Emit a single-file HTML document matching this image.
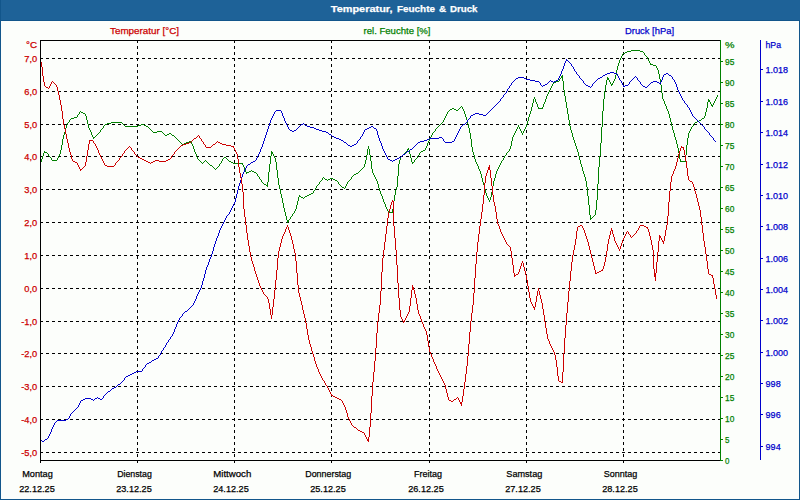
<!DOCTYPE html>
<html><head><meta charset="utf-8"><title>Temperatur, Feuchte &amp; Druck</title>
<style>
html,body{margin:0;padding:0;background:#fcfefb;}
body{width:800px;height:500px;overflow:hidden;font-family:"Liberation Sans",sans-serif;}
svg{display:block;font-family:"Liberation Sans",sans-serif;}
</style></head><body>
<svg width="800" height="500" viewBox="0 0 800 500">
<rect x="0" y="0" width="800" height="500" fill="#fcfefb"/>
<rect x="0" y="0" width="800" height="20" fill="#1e6298"/>
<rect x="0" y="20" width="800" height="1" fill="#12568b"/>
<rect x="0" y="0" width="1" height="500" fill="#12568b"/>
<rect x="799" y="20" width="1" height="480" fill="#12568b"/>
<rect x="0" y="499" width="800" height="1" fill="#12568b"/>
<text x="330.8" y="11.5" fill="#ffffff" stroke="#ffffff" stroke-width="0.25" text-anchor="start" font-size="9.6" font-weight="bold" textLength="61.7" lengthAdjust="spacingAndGlyphs">Temperatur,</text>
<text x="397" y="11.5" fill="#ffffff" stroke="#ffffff" stroke-width="0.25" text-anchor="start" font-size="9.6" font-weight="bold" textLength="38" lengthAdjust="spacingAndGlyphs">Feuchte</text>
<text x="439" y="11.5" fill="#ffffff" stroke="#ffffff" stroke-width="0.25" text-anchor="start" font-size="9.6" font-weight="bold" textLength="7.2" lengthAdjust="spacingAndGlyphs">&amp;</text>
<text x="450" y="11.5" fill="#ffffff" stroke="#ffffff" stroke-width="0.25" text-anchor="start" font-size="9.6" font-weight="bold" textLength="27.5" lengthAdjust="spacingAndGlyphs">Druck</text>
<g stroke="#000" stroke-width="1" stroke-dasharray="3,3" shape-rendering="crispEdges"><line x1="40" y1="452.5" x2="720" y2="452.5"/><line x1="40" y1="419.5" x2="720" y2="419.5"/><line x1="40" y1="386.5" x2="720" y2="386.5"/><line x1="40" y1="353.5" x2="720" y2="353.5"/><line x1="40" y1="321.5" x2="720" y2="321.5"/><line x1="40" y1="288.5" x2="720" y2="288.5"/><line x1="40" y1="255.5" x2="720" y2="255.5"/><line x1="40" y1="222.5" x2="720" y2="222.5"/><line x1="40" y1="189.5" x2="720" y2="189.5"/><line x1="40" y1="156.5" x2="720" y2="156.5"/><line x1="40" y1="124.5" x2="720" y2="124.5"/><line x1="40" y1="91.5" x2="720" y2="91.5"/><line x1="40" y1="58.5" x2="720" y2="58.5"/><line x1="137.5" y1="40" x2="137.5" y2="460"/><line x1="234.5" y1="40" x2="234.5" y2="460"/><line x1="331.5" y1="40" x2="331.5" y2="460"/><line x1="429.5" y1="40" x2="429.5" y2="460"/><line x1="526.5" y1="40" x2="526.5" y2="460"/><line x1="623.5" y1="40" x2="623.5" y2="460"/></g>
<path d="M40.5 162v2M41.5 159v3M42.5 156v3M43.5 153v3M44.5 151v2M45.5 152v1M46.5 152v1M47.5 153v1M48.5 154v2M49.5 156v1M50.5 157v1M51.5 158v2M52.5 160v1M53.5 160v1M54.5 160v1M55.5 160v1M56.5 160v1M57.5 158v2M58.5 156v2M59.5 154v2M60.5 150v4M61.5 145v5M62.5 139v6M63.5 135v4M64.5 132v3M65.5 128v4M66.5 125v3M67.5 123v2M68.5 122v1M69.5 120v2M70.5 119v1M71.5 118v1M72.5 118v1M73.5 118v1M74.5 117v1M75.5 117v1M76.5 117v1M77.5 115v2M78.5 114v1M79.5 112v2M80.5 111v1M81.5 112v1M82.5 112v1M83.5 113v1M84.5 113v1M85.5 114v2M86.5 116v4M87.5 120v4M88.5 124v4M89.5 128v2M90.5 130v2M91.5 132v3M92.5 135v2M93.5 137v2M94.5 137v1M95.5 136v1M96.5 135v1M97.5 134v1M98.5 133v1M99.5 132v1M100.5 130v2M101.5 129v1M102.5 128v1M103.5 126v2M104.5 125v1M105.5 124v1M106.5 124v1M107.5 123v1M108.5 123v1M109.5 123v1M110.5 123v1M111.5 122v1M112.5 122v1M113.5 122v1M114.5 122v1M115.5 122v1M116.5 122v1M117.5 122v1M118.5 122v1M119.5 122v1M120.5 122v1M121.5 122v1M122.5 123v1M123.5 124v1M124.5 125v1M125.5 126v1M126.5 126v1M127.5 126v1M128.5 126v1M129.5 126v1M130.5 126v1M131.5 126v1M132.5 126v1M133.5 126v1M134.5 126v1M135.5 126v1M136.5 126v1M137.5 126v1M138.5 125v1M139.5 125v1M140.5 125v1M141.5 124v1M142.5 124v1M143.5 124v1M144.5 125v1M145.5 125v1M146.5 126v1M147.5 126v1M148.5 127v1M149.5 128v1M150.5 129v1M151.5 130v1M152.5 131v1M153.5 132v1M154.5 132v1M155.5 132v1M156.5 132v1M157.5 131v1M158.5 131v1M159.5 131v1M160.5 131v1M161.5 131v1M162.5 132v1M163.5 133v1M164.5 134v1M165.5 135v1M166.5 135v1M167.5 134v1M168.5 134v1M169.5 133v1M170.5 133v1M171.5 134v1M172.5 135v1M173.5 135v1M174.5 136v1M175.5 137v1M176.5 138v1M177.5 139v1M178.5 140v1M179.5 141v1M180.5 142v1M181.5 143v1M182.5 144v1M183.5 144v1M184.5 143v1M185.5 143v1M186.5 142v1M187.5 142v1M188.5 142v1M189.5 141v1M190.5 141v1M191.5 142v2M192.5 144v2M193.5 146v3M194.5 149v3M195.5 152v2M196.5 154v3M197.5 157v2M198.5 159v1M199.5 160v1M200.5 161v1M201.5 162v1M202.5 163v1M203.5 162v1M204.5 161v1M205.5 160v1M206.5 161v1M207.5 162v1M208.5 163v1M209.5 164v1M210.5 165v1M211.5 165v1M212.5 166v1M213.5 167v1M214.5 168v1M215.5 169v1M216.5 168v1M217.5 167v1M218.5 166v1M219.5 164v2M220.5 163v1M221.5 161v2M222.5 159v2M223.5 158v1M224.5 157v1M225.5 157v1M226.5 158v1M227.5 159v1M228.5 160v1M229.5 161v1M230.5 161v1M231.5 162v1M232.5 162v1M233.5 163v1M234.5 163v1M235.5 163v1M236.5 163v1M237.5 163v1M238.5 163v1M239.5 163v1M240.5 163v1M241.5 163v1M242.5 163v2M243.5 165v2M244.5 167v3M245.5 170v2M246.5 172v2M247.5 172v1M248.5 172v1M249.5 171v1M250.5 171v1M251.5 170v1M252.5 171v1M253.5 171v1M254.5 172v1M255.5 172v1M256.5 173v1M257.5 174v2M258.5 176v1M259.5 177v2M260.5 179v1M261.5 180v2M262.5 182v1M263.5 183v1M264.5 184v1M265.5 184v1M266.5 185v1M267.5 182v5M268.5 172v10M269.5 164v8M270.5 156v8M271.5 151v5M272.5 152v2M273.5 154v2M274.5 156v2M275.5 158v4M276.5 162v8M277.5 170v8M278.5 178v7M279.5 185v4M280.5 189v5M281.5 194v4M282.5 198v5M283.5 203v5M284.5 208v4M285.5 212v4M286.5 216v4M287.5 220v3M288.5 220v2M289.5 219v1M290.5 217v2M291.5 216v1M292.5 214v2M293.5 213v1M294.5 211v2M295.5 209v2M296.5 205v4M297.5 201v4M298.5 197v4M299.5 195v2M300.5 196v1M301.5 197v1M302.5 197v1M303.5 198v1M304.5 197v1M305.5 196v1M306.5 196v1M307.5 195v1M308.5 195v1M309.5 194v1M310.5 194v1M311.5 193v1M312.5 193v1M313.5 191v2M314.5 190v1M315.5 188v2M316.5 186v2M317.5 185v1M318.5 184v1M319.5 182v2M320.5 181v1M321.5 180v1M322.5 178v2M323.5 177v1M324.5 178v1M325.5 179v1M326.5 179v1M327.5 180v1M328.5 179v1M329.5 179v1M330.5 178v1M331.5 178v1M332.5 178v1M333.5 179v1M334.5 179v1M335.5 180v1M336.5 180v1M337.5 181v1M338.5 182v2M339.5 184v1M340.5 185v1M341.5 186v1M342.5 187v1M343.5 187v1M344.5 188v1M345.5 186v2M346.5 184v2M347.5 182v2M348.5 181v1M349.5 180v1M350.5 179v1M351.5 177v2M352.5 176v1M353.5 175v1M354.5 174v1M355.5 174v1M356.5 173v1M357.5 173v1M358.5 172v1M359.5 171v1M360.5 170v1M361.5 169v1M362.5 168v1M363.5 167v1M364.5 164v3M365.5 160v4M366.5 155v5M367.5 149v6M368.5 146v3M369.5 149v6M370.5 155v6M371.5 161v8M372.5 169v4M373.5 173v2M374.5 175v2M375.5 177v2M376.5 179v2M377.5 181v3M378.5 184v4M379.5 188v3M380.5 191v3M381.5 194v2M382.5 196v3M383.5 199v3M384.5 202v2M385.5 204v3M386.5 207v2M387.5 209v2M388.5 211v2M389.5 212v1M390.5 212v1M391.5 212v1M392.5 209v4M393.5 201v8M394.5 195v6M395.5 190v5M396.5 187v3M397.5 176v11M398.5 164v12M399.5 160v4M400.5 157v3M401.5 156v1M402.5 155v1M403.5 154v1M404.5 153v1M405.5 152v1M406.5 151v1M407.5 149v2M408.5 148v2M409.5 150v4M410.5 154v4M411.5 158v4M412.5 162v2M413.5 162v1M414.5 160v2M415.5 159v1M416.5 158v1M417.5 156v2M418.5 155v1M419.5 153v2M420.5 152v1M421.5 151v1M422.5 151v1M423.5 150v1M424.5 150v1M425.5 148v2M426.5 146v2M427.5 143v3M428.5 141v2M429.5 139v2M430.5 137v2M431.5 135v2M432.5 133v2M433.5 132v1M434.5 131v1M435.5 129v2M436.5 128v1M437.5 127v1M438.5 126v1M439.5 125v1M440.5 124v1M441.5 123v1M442.5 122v1M443.5 120v2M444.5 118v2M445.5 116v2M446.5 114v2M447.5 112v2M448.5 111v1M449.5 110v1M450.5 109v1M451.5 109v1M452.5 108v1M453.5 108v1M454.5 109v1M455.5 109v1M456.5 110v1M457.5 110v1M458.5 109v1M459.5 108v1M460.5 107v1M461.5 106v1M462.5 107v2M463.5 109v2M464.5 111v3M465.5 114v3M466.5 117v3M467.5 120v4M468.5 124v4M469.5 128v5M470.5 133v6M471.5 139v8M472.5 147v5M473.5 152v3M474.5 155v4M475.5 159v3M476.5 162v2M477.5 164v2M478.5 166v3M479.5 169v2M480.5 171v3M481.5 174v4M482.5 178v4M483.5 182v3M484.5 185v4M485.5 189v4M486.5 193v3M487.5 196v2M488.5 198v2M489.5 200v2M490.5 197v3M491.5 192v5M492.5 186v6M493.5 181v5M494.5 178v3M495.5 174v4M496.5 171v3M497.5 169v2M498.5 167v2M499.5 165v2M500.5 163v2M501.5 161v2M502.5 160v1M503.5 158v2M504.5 156v2M505.5 155v1M506.5 153v2M507.5 152v1M508.5 151v1M509.5 149v2M510.5 146v3M511.5 141v5M512.5 137v4M513.5 135v2M514.5 133v2M515.5 131v2M516.5 129v2M517.5 127v2M518.5 125v2M519.5 127v2M520.5 129v2M521.5 131v2M522.5 133v2M523.5 131v2M524.5 129v2M525.5 127v2M526.5 124v3M527.5 121v3M528.5 117v4M529.5 114v3M530.5 111v3M531.5 107v4M532.5 103v4M533.5 99v4M534.5 97v2M535.5 99v3M536.5 102v2M537.5 104v3M538.5 107v2M539.5 108v1M540.5 108v1M541.5 108v1M542.5 107v2M543.5 104v3M544.5 102v2M545.5 99v3M546.5 96v3M547.5 94v2M548.5 92v2M549.5 90v2M550.5 88v2M551.5 86v2M552.5 84v2M553.5 82v2M554.5 82v1M555.5 82v1M556.5 81v1M557.5 81v1M558.5 81v1M559.5 79v2M560.5 78v1M561.5 76v2M562.5 75v6M563.5 81v9M564.5 90v6M565.5 96v6M566.5 102v6M567.5 108v6M568.5 114v6M569.5 120v6M570.5 126v4M571.5 130v3M572.5 133v4M573.5 137v3M574.5 140v3M575.5 143v3M576.5 146v3M577.5 149v3M578.5 152v4M579.5 156v4M580.5 160v4M581.5 164v3M582.5 167v4M583.5 171v3M584.5 174v3M585.5 177v4M586.5 181v6M587.5 187v9M588.5 196v9M589.5 205v10M590.5 215v5M591.5 218v1M592.5 217v1M593.5 216v1M594.5 215v1M595.5 210v5M596.5 200v10M597.5 184v16M598.5 167v17M599.5 156v11M600.5 143v13M601.5 127v16M602.5 111v16M603.5 99v12M604.5 91v8M605.5 85v6M606.5 80v5M607.5 77v3M608.5 78v2M609.5 80v2M610.5 82v2M611.5 84v2M612.5 83v2M613.5 81v2M614.5 79v2M615.5 75v4M616.5 70v5M617.5 66v4M618.5 63v3M619.5 60v3M620.5 58v2M621.5 56v2M622.5 54v2M623.5 53v1M624.5 53v1M625.5 52v1M626.5 52v1M627.5 51v1M628.5 51v1M629.5 51v1M630.5 51v1M631.5 50v1M632.5 50v1M633.5 50v1M634.5 50v1M635.5 50v1M636.5 50v1M637.5 50v1M638.5 50v1M639.5 50v1M640.5 51v1M641.5 51v1M642.5 51v1M643.5 52v1M644.5 53v2M645.5 55v1M646.5 56v1M647.5 57v2M648.5 59v2M649.5 61v2M650.5 63v2M651.5 64v1M652.5 64v1M653.5 65v1M654.5 65v1M655.5 65v1M656.5 66v2M657.5 68v2M658.5 70v4M659.5 74v5M660.5 79v6M661.5 85v8M662.5 93v6M663.5 99v2M664.5 101v3M665.5 104v2M666.5 106v3M667.5 109v2M668.5 111v3M669.5 114v4M670.5 118v4M671.5 122v4M672.5 126v4M673.5 130v3M674.5 133v4M675.5 137v3M676.5 140v4M677.5 144v4M678.5 148v5M679.5 153v6M680.5 159v3M681.5 161v1M682.5 161v1M683.5 161v1M684.5 161v1M685.5 155v7M686.5 145v10M687.5 138v7M688.5 133v5M689.5 131v2M690.5 129v2M691.5 127v2M692.5 126v1M693.5 124v2M694.5 123v1M695.5 122v1M696.5 122v1M697.5 121v1M698.5 121v1M699.5 120v1M700.5 120v1M701.5 119v1M702.5 118v1M703.5 118v1M704.5 116v2M705.5 112v4M706.5 108v4M707.5 102v6M708.5 99v3M709.5 100v2M710.5 102v2M711.5 104v2M712.5 105v2M713.5 103v2M714.5 101v2M715.5 99v2M716.5 97v2M717.5 95v2" fill="none" stroke="#008000" stroke-width="1" shape-rendering="crispEdges"/>
<path d="M40.5 440v1M41.5 440v1M42.5 441v1M43.5 441v1M44.5 440v1M45.5 439v1M46.5 439v1M47.5 438v1M48.5 436v2M49.5 434v2M50.5 432v2M51.5 429v3M52.5 427v2M53.5 425v2M54.5 423v2M55.5 422v1M56.5 421v1M57.5 420v1M58.5 420v1M59.5 420v1M60.5 420v1M61.5 420v1M62.5 420v1M63.5 420v1M64.5 420v1M65.5 420v1M66.5 419v1M67.5 419v1M68.5 418v1M69.5 416v2M70.5 414v2M71.5 413v1M72.5 412v1M73.5 411v1M74.5 410v1M75.5 409v1M76.5 408v1M77.5 407v1M78.5 405v2M79.5 403v2M80.5 401v2M81.5 400v1M82.5 400v1M83.5 399v1M84.5 399v1M85.5 398v1M86.5 398v1M87.5 398v1M88.5 398v1M89.5 398v1M90.5 398v1M91.5 399v1M92.5 399v1M93.5 400v1M94.5 399v1M95.5 398v1M96.5 398v1M97.5 397v1M98.5 398v1M99.5 398v1M100.5 399v1M101.5 399v1M102.5 398v1M103.5 396v2M104.5 395v1M105.5 394v1M106.5 393v1M107.5 392v1M108.5 391v1M109.5 391v1M110.5 390v1M111.5 389v1M112.5 388v1M113.5 388v1M114.5 387v1M115.5 387v1M116.5 386v1M117.5 385v1M118.5 384v1M119.5 384v1M120.5 383v1M121.5 382v1M122.5 381v1M123.5 380v1M124.5 378v2M125.5 377v1M126.5 376v1M127.5 376v1M128.5 375v1M129.5 375v1M130.5 374v1M131.5 374v1M132.5 373v1M133.5 373v1M134.5 372v1M135.5 372v1M136.5 371v1M137.5 371v1M138.5 371v1M139.5 371v1M140.5 371v1M141.5 371v1M142.5 369v2M143.5 368v1M144.5 367v1M145.5 365v2M146.5 364v1M147.5 363v1M148.5 363v1M149.5 362v1M150.5 362v1M151.5 361v1M152.5 360v1M153.5 360v1M154.5 359v1M155.5 359v1M156.5 358v1M157.5 358v1M158.5 356v2M159.5 355v1M160.5 353v2M161.5 351v2M162.5 350v1M163.5 348v2M164.5 347v1M165.5 345v2M166.5 343v2M167.5 342v1M168.5 340v2M169.5 339v1M170.5 337v2M171.5 336v1M172.5 334v2M173.5 332v2M174.5 329v3M175.5 327v2M176.5 324v3M177.5 322v2M178.5 320v2M179.5 318v2M180.5 317v1M181.5 316v1M182.5 314v2M183.5 313v1M184.5 312v1M185.5 311v1M186.5 311v1M187.5 310v1M188.5 309v1M189.5 308v1M190.5 307v1M191.5 306v1M192.5 305v1M193.5 303v2M194.5 301v2M195.5 299v2M196.5 296v3M197.5 294v2M198.5 292v2M199.5 290v2M200.5 288v2M201.5 285v3M202.5 281v4M203.5 278v3M204.5 274v4M205.5 270v4M206.5 267v3M207.5 265v2M208.5 262v3M209.5 259v3M210.5 257v2M211.5 254v3M212.5 251v3M213.5 247v4M214.5 244v3M215.5 241v3M216.5 238v3M217.5 236v2M218.5 233v3M219.5 230v3M220.5 228v2M221.5 226v2M222.5 224v2M223.5 222v2M224.5 220v2M225.5 218v2M226.5 216v2M227.5 215v1M228.5 214v1M229.5 212v2M230.5 210v2M231.5 208v2M232.5 206v2M233.5 204v2M234.5 202v2M235.5 198v4M236.5 194v4M237.5 190v4M238.5 186v4M239.5 183v3M240.5 180v3M241.5 177v3M242.5 174v3M243.5 172v2M244.5 170v2M245.5 168v2M246.5 166v2M247.5 165v1M248.5 164v1M249.5 164v1M250.5 163v1M251.5 162v1M252.5 162v1M253.5 161v1M254.5 161v1M255.5 160v1M256.5 158v2M257.5 156v2M258.5 154v2M259.5 152v2M260.5 149v3M261.5 147v2M262.5 144v3M263.5 141v3M264.5 138v3M265.5 135v3M266.5 132v3M267.5 129v3M268.5 126v3M269.5 123v3M270.5 120v3M271.5 118v2M272.5 116v2M273.5 114v2M274.5 112v2M275.5 111v1M276.5 110v1M277.5 110v1M278.5 110v1M279.5 110v1M280.5 110v1M281.5 111v2M282.5 113v3M283.5 116v2M284.5 118v3M285.5 121v2M286.5 123v2M287.5 125v2M288.5 127v2M289.5 129v1M290.5 130v1M291.5 130v1M292.5 131v1M293.5 131v1M294.5 130v1M295.5 130v1M296.5 129v1M297.5 128v1M298.5 127v1M299.5 126v1M300.5 125v1M301.5 124v1M302.5 124v1M303.5 123v1M304.5 124v1M305.5 125v1M306.5 125v1M307.5 126v1M308.5 126v1M309.5 126v1M310.5 127v1M311.5 127v1M312.5 127v1M313.5 127v1M314.5 128v1M315.5 128v1M316.5 129v1M317.5 129v1M318.5 129v1M319.5 130v1M320.5 130v1M321.5 130v1M322.5 131v1M323.5 131v1M324.5 131v1M325.5 131v1M326.5 132v1M327.5 132v1M328.5 133v1M329.5 134v1M330.5 134v1M331.5 135v1M332.5 136v1M333.5 136v1M334.5 137v1M335.5 137v1M336.5 138v1M337.5 138v1M338.5 138v1M339.5 139v1M340.5 139v1M341.5 140v1M342.5 140v1M343.5 141v1M344.5 142v1M345.5 142v1M346.5 143v1M347.5 144v1M348.5 145v1M349.5 145v1M350.5 146v1M351.5 146v1M352.5 145v1M353.5 145v1M354.5 144v1M355.5 144v1M356.5 143v1M357.5 141v2M358.5 140v1M359.5 139v1M360.5 137v2M361.5 136v1M362.5 134v2M363.5 132v2M364.5 130v2M365.5 129v1M366.5 129v1M367.5 128v1M368.5 128v1M369.5 127v1M370.5 127v1M371.5 126v1M372.5 126v1M373.5 127v1M374.5 128v1M375.5 128v1M376.5 129v2M377.5 131v4M378.5 135v3M379.5 138v3M380.5 141v2M381.5 143v3M382.5 146v3M383.5 149v2M384.5 151v2M385.5 153v2M386.5 155v2M387.5 157v2M388.5 159v1M389.5 159v1M390.5 160v1M391.5 160v1M392.5 161v1M393.5 160v1M394.5 160v1M395.5 159v1M396.5 159v1M397.5 158v1M398.5 158v1M399.5 157v1M400.5 157v1M401.5 156v1M402.5 155v1M403.5 154v1M404.5 154v1M405.5 153v1M406.5 152v1M407.5 151v1M408.5 151v1M409.5 150v1M410.5 149v1M411.5 149v1M412.5 148v1M413.5 147v1M414.5 146v1M415.5 145v1M416.5 144v1M417.5 143v1M418.5 142v1M419.5 142v1M420.5 141v1M421.5 141v1M422.5 141v1M423.5 141v1M424.5 140v1M425.5 140v1M426.5 140v1M427.5 139v1M428.5 139v1M429.5 138v1M430.5 138v1M431.5 138v1M432.5 138v1M433.5 138v1M434.5 138v1M435.5 138v1M436.5 138v1M437.5 138v1M438.5 138v1M439.5 137v1M440.5 137v1M441.5 137v1M442.5 138v1M443.5 139v2M444.5 141v1M445.5 142v1M446.5 142v1M447.5 142v1M448.5 142v1M449.5 142v1M450.5 142v1M451.5 142v1M452.5 141v1M453.5 141v1M454.5 139v2M455.5 137v2M456.5 135v2M457.5 133v2M458.5 131v2M459.5 129v2M460.5 127v2M461.5 126v1M462.5 125v1M463.5 124v1M464.5 124v1M465.5 123v1M466.5 122v1M467.5 120v2M468.5 119v1M469.5 118v1M470.5 116v2M471.5 115v1M472.5 115v1M473.5 114v1M474.5 114v1M475.5 113v1M476.5 113v1M477.5 113v1M478.5 113v1M479.5 114v1M480.5 114v1M481.5 114v1M482.5 114v1M483.5 115v1M484.5 115v1M485.5 115v1M486.5 114v1M487.5 113v1M488.5 112v1M489.5 111v1M490.5 110v1M491.5 109v1M492.5 108v1M493.5 107v1M494.5 106v1M495.5 105v1M496.5 104v1M497.5 103v1M498.5 102v1M499.5 101v1M500.5 99v2M501.5 98v1M502.5 97v1M503.5 95v2M504.5 94v1M505.5 93v1M506.5 91v2M507.5 89v2M508.5 88v1M509.5 86v2M510.5 85v1M511.5 83v2M512.5 82v1M513.5 81v1M514.5 80v1M515.5 79v1M516.5 78v1M517.5 78v1M518.5 77v1M519.5 77v1M520.5 77v1M521.5 77v1M522.5 77v1M523.5 77v1M524.5 78v1M525.5 78v1M526.5 79v1M527.5 79v1M528.5 79v1M529.5 79v1M530.5 80v1M531.5 80v1M532.5 80v1M533.5 80v1M534.5 80v1M535.5 81v1M536.5 81v1M537.5 81v1M538.5 81v1M539.5 82v1M540.5 83v2M541.5 85v1M542.5 86v1M543.5 85v1M544.5 85v1M545.5 84v1M546.5 84v1M547.5 83v1M548.5 82v1M549.5 81v1M550.5 80v1M551.5 81v1M552.5 81v1M553.5 82v1M554.5 81v1M555.5 81v1M556.5 80v1M557.5 80v1M558.5 78v2M559.5 76v2M560.5 74v2M561.5 71v3M562.5 69v2M563.5 66v3M564.5 63v3M565.5 61v2M566.5 59v2M567.5 60v1M568.5 61v1M569.5 62v1M570.5 63v1M571.5 64v2M572.5 66v1M573.5 67v2M574.5 69v2M575.5 71v1M576.5 72v2M577.5 74v1M578.5 75v1M579.5 76v2M580.5 78v1M581.5 79v1M582.5 80v1M583.5 81v2M584.5 83v1M585.5 84v1M586.5 85v1M587.5 85v1M588.5 86v1M589.5 86v1M590.5 87v1M591.5 86v1M592.5 84v2M593.5 83v1M594.5 82v1M595.5 81v1M596.5 80v1M597.5 79v1M598.5 78v1M599.5 78v1M600.5 77v1M601.5 77v1M602.5 76v1M603.5 75v1M604.5 75v1M605.5 74v1M606.5 74v1M607.5 73v1M608.5 73v1M609.5 73v1M610.5 72v1M611.5 72v1M612.5 72v1M613.5 72v1M614.5 73v1M615.5 73v1M616.5 73v1M617.5 74v2M618.5 76v2M619.5 78v2M620.5 80v1M621.5 81v2M622.5 83v2M623.5 85v2M624.5 86v1M625.5 85v1M626.5 85v1M627.5 85v1M628.5 84v1M629.5 82v2M630.5 81v1M631.5 80v1M632.5 79v1M633.5 78v1M634.5 77v1M635.5 76v1M636.5 77v1M637.5 78v2M638.5 80v1M639.5 81v1M640.5 82v2M641.5 84v1M642.5 85v1M643.5 86v1M644.5 86v1M645.5 87v1M646.5 87v1M647.5 86v1M648.5 85v1M649.5 84v1M650.5 83v1M651.5 82v1M652.5 82v1M653.5 81v1M654.5 81v1M655.5 81v1M656.5 81v1M657.5 82v1M658.5 82v1M659.5 83v1M660.5 82v2M661.5 80v2M662.5 77v3M663.5 75v2M664.5 74v1M665.5 74v1M666.5 73v1M667.5 73v1M668.5 74v1M669.5 75v1M670.5 75v1M671.5 76v1M672.5 77v2M673.5 79v1M674.5 80v2M675.5 82v2M676.5 84v3M677.5 87v3M678.5 90v2M679.5 92v2M680.5 94v2M681.5 96v2M682.5 98v2M683.5 100v1M684.5 101v2M685.5 103v1M686.5 104v1M687.5 105v2M688.5 107v1M689.5 108v2M690.5 110v2M691.5 112v2M692.5 114v2M693.5 116v1M694.5 117v1M695.5 118v1M696.5 119v1M697.5 120v1M698.5 121v1M699.5 122v1M700.5 123v1M701.5 124v1M702.5 125v1M703.5 126v1M704.5 127v2M705.5 129v1M706.5 130v1M707.5 131v1M708.5 132v1M709.5 133v2M710.5 135v1M711.5 136v1M712.5 137v1M713.5 138v2M714.5 140v1M715.5 141v1" fill="none" stroke="#0000cc" stroke-width="1" shape-rendering="crispEdges"/>
<path d="M40.5 61v1M41.5 62v5M42.5 67v9M43.5 76v6M44.5 82v4M45.5 86v1M46.5 87v1M47.5 87v1M48.5 88v1M49.5 86v2M50.5 84v2M51.5 82v2M52.5 81v1M53.5 82v1M54.5 83v1M55.5 84v1M56.5 85v2M57.5 87v4M58.5 91v4M59.5 95v5M60.5 100v5M61.5 105v6M62.5 111v8M63.5 119v6M64.5 125v4M65.5 129v5M66.5 134v5M67.5 139v4M68.5 143v5M69.5 148v4M70.5 152v3M71.5 155v4M72.5 159v2M73.5 161v1M74.5 161v1M75.5 162v1M76.5 162v1M77.5 163v2M78.5 165v2M79.5 167v2M80.5 169v2M81.5 169v1M82.5 168v1M83.5 167v1M84.5 166v1M85.5 162v4M86.5 156v6M87.5 150v6M88.5 144v6M89.5 140v4M90.5 140v1M91.5 140v1M92.5 140v1M93.5 141v2M94.5 143v1M95.5 144v2M96.5 146v2M97.5 148v2M98.5 150v3M99.5 153v2M100.5 155v2M101.5 157v2M102.5 159v2M103.5 161v2M104.5 163v2M105.5 165v1M106.5 165v1M107.5 166v1M108.5 166v1M109.5 166v1M110.5 166v1M111.5 166v1M112.5 166v1M113.5 166v1M114.5 165v1M115.5 163v2M116.5 162v1M117.5 161v1M118.5 160v1M119.5 158v2M120.5 157v1M121.5 156v1M122.5 154v2M123.5 153v1M124.5 151v2M125.5 150v1M126.5 149v1M127.5 148v1M128.5 147v1M129.5 146v1M130.5 147v1M131.5 148v2M132.5 150v1M133.5 151v1M134.5 152v2M135.5 154v1M136.5 155v1M137.5 156v1M138.5 157v1M139.5 157v1M140.5 158v1M141.5 158v1M142.5 159v1M143.5 159v1M144.5 160v1M145.5 160v1M146.5 161v1M147.5 161v1M148.5 162v1M149.5 162v1M150.5 163v1M151.5 162v1M152.5 162v1M153.5 161v1M154.5 161v1M155.5 160v1M156.5 160v1M157.5 160v1M158.5 160v1M159.5 161v1M160.5 161v1M161.5 161v1M162.5 161v1M163.5 161v1M164.5 161v1M165.5 161v1M166.5 160v1M167.5 160v1M168.5 159v1M169.5 159v1M170.5 158v1M171.5 156v2M172.5 155v1M173.5 154v1M174.5 152v2M175.5 151v1M176.5 150v1M177.5 149v1M178.5 148v1M179.5 147v1M180.5 146v1M181.5 145v1M182.5 145v1M183.5 144v1M184.5 144v1M185.5 144v1M186.5 143v1M187.5 143v1M188.5 143v1M189.5 142v1M190.5 142v1M191.5 141v1M192.5 140v1M193.5 139v1M194.5 138v1M195.5 138v1M196.5 137v1M197.5 136v1M198.5 135v1M199.5 136v2M200.5 138v1M201.5 139v2M202.5 141v1M203.5 142v2M204.5 144v1M205.5 145v2M206.5 147v1M207.5 147v1M208.5 147v1M209.5 147v1M210.5 147v1M211.5 146v1M212.5 145v1M213.5 144v1M214.5 144v1M215.5 143v1M216.5 142v1M217.5 141v1M218.5 142v1M219.5 142v1M220.5 143v1M221.5 143v1M222.5 144v1M223.5 144v1M224.5 144v1M225.5 144v1M226.5 145v1M227.5 145v1M228.5 145v1M229.5 145v1M230.5 145v1M231.5 146v1M232.5 146v1M233.5 146v2M234.5 148v2M235.5 150v2M236.5 152v2M237.5 154v5M238.5 159v8M239.5 167v6M240.5 173v5M241.5 178v6M242.5 184v8M243.5 192v17M244.5 209v8M245.5 217v8M246.5 225v8M247.5 233v7M248.5 240v6M249.5 246v6M250.5 252v5M251.5 257v4M252.5 261v3M253.5 264v3M254.5 267v4M255.5 271v3M256.5 274v3M257.5 277v3M258.5 280v3M259.5 283v3M260.5 286v2M261.5 288v2M262.5 290v2M263.5 292v2M264.5 294v1M265.5 295v1M266.5 296v1M267.5 297v2M268.5 299v4M269.5 303v6M270.5 309v6M271.5 315v4M272.5 307v8M273.5 299v8M274.5 290v9M275.5 280v10M276.5 270v10M277.5 258v12M278.5 251v7M279.5 247v4M280.5 243v4M281.5 239v4M282.5 236v3M283.5 234v2M284.5 232v2M285.5 229v3M286.5 227v2M287.5 225v2M288.5 227v3M289.5 230v3M290.5 233v3M291.5 236v4M292.5 240v4M293.5 244v5M294.5 249v4M295.5 253v8M296.5 261v12M297.5 273v12M298.5 285v8M299.5 293v4M300.5 297v4M301.5 301v4M302.5 305v5M303.5 310v4M304.5 314v4M305.5 318v5M306.5 323v6M307.5 329v6M308.5 335v5M309.5 340v4M310.5 344v3M311.5 347v4M312.5 351v3M313.5 354v3M314.5 357v4M315.5 361v3M316.5 364v3M317.5 367v2M318.5 369v3M319.5 372v2M320.5 374v2M321.5 376v2M322.5 378v2M323.5 380v1M324.5 381v2M325.5 383v2M326.5 385v1M327.5 386v2M328.5 388v2M329.5 390v2M330.5 392v2M331.5 394v2M332.5 395v1M333.5 396v1M334.5 396v1M335.5 397v1M336.5 397v1M337.5 398v1M338.5 398v1M339.5 399v1M340.5 399v1M341.5 400v1M342.5 401v2M343.5 403v2M344.5 405v2M345.5 407v3M346.5 410v3M347.5 413v4M348.5 417v2M349.5 419v2M350.5 421v2M351.5 423v2M352.5 425v1M353.5 426v1M354.5 427v1M355.5 427v1M356.5 428v1M357.5 429v1M358.5 430v1M359.5 430v1M360.5 431v1M361.5 431v1M362.5 432v1M363.5 432v1M364.5 433v2M365.5 435v2M366.5 437v2M367.5 439v2M368.5 437v5M369.5 427v10M370.5 413v14M371.5 396v17M372.5 382v14M373.5 372v10M374.5 361v11M375.5 348v13M376.5 333v15M377.5 321v12M378.5 313v8M379.5 305v8M380.5 291v14M381.5 272v19M382.5 258v14M383.5 250v8M384.5 242v8M385.5 234v8M386.5 226v8M387.5 218v8M388.5 212v6M389.5 209v3M390.5 205v4M391.5 202v3M392.5 200v2M393.5 201v25M394.5 226v12M395.5 238v12M396.5 250v15M397.5 265v18M398.5 283v15M399.5 298v12M400.5 310v7M401.5 317v2M402.5 319v2M403.5 321v2M404.5 320v2M405.5 318v2M406.5 316v2M407.5 314v2M408.5 312v2M409.5 306v6M410.5 298v8M411.5 290v8M412.5 285v5M413.5 287v3M414.5 290v4M415.5 294v4M416.5 298v6M417.5 304v6M418.5 310v4M419.5 314v2M420.5 316v3M421.5 319v3M422.5 322v2M423.5 324v3M424.5 327v2M425.5 329v2M426.5 331v4M427.5 335v6M428.5 341v6M429.5 347v5M430.5 352v2M431.5 354v3M432.5 357v2M433.5 359v3M434.5 362v2M435.5 364v2M436.5 366v3M437.5 369v2M438.5 371v2M439.5 373v2M440.5 375v2M441.5 377v2M442.5 379v2M443.5 381v2M444.5 383v2M445.5 385v4M446.5 389v4M447.5 393v4M448.5 397v3M449.5 400v1M450.5 400v1M451.5 401v1M452.5 401v1M453.5 400v1M454.5 399v1M455.5 399v1M456.5 398v1M457.5 397v1M458.5 398v2M459.5 400v2M460.5 402v2M461.5 402v4M462.5 396v6M463.5 389v7M464.5 382v7M465.5 374v8M466.5 366v8M467.5 356v10M468.5 344v12M469.5 332v12M470.5 321v11M471.5 313v8M472.5 305v8M473.5 293v12M474.5 278v15M475.5 264v14M476.5 252v12M477.5 242v10M478.5 234v8M479.5 226v8M480.5 219v7M481.5 212v7M482.5 204v8M483.5 195v9M484.5 183v12M485.5 176v7M486.5 173v3M487.5 170v3M488.5 167v3M489.5 165v5M490.5 170v8M491.5 178v8M492.5 186v9M493.5 195v7M494.5 202v4M495.5 206v6M496.5 212v7M497.5 219v5M498.5 224v2M499.5 226v3M500.5 229v3M501.5 232v2M502.5 234v2M503.5 236v2M504.5 238v2M505.5 240v2M506.5 242v2M507.5 244v1M508.5 245v1M509.5 246v1M510.5 247v4M511.5 251v7M512.5 258v7M513.5 265v8M514.5 273v4M515.5 275v1M516.5 274v1M517.5 274v1M518.5 272v2M519.5 269v3M520.5 266v3M521.5 263v3M522.5 261v2M523.5 263v4M524.5 267v4M525.5 271v4M526.5 275v5M527.5 280v6M528.5 286v6M529.5 292v6M530.5 298v4M531.5 302v2M532.5 304v2M533.5 306v2M534.5 307v3M535.5 302v5M536.5 296v6M537.5 291v5M538.5 288v3M539.5 291v4M540.5 295v4M541.5 299v4M542.5 303v6M543.5 309v6M544.5 315v7M545.5 322v6M546.5 328v6M547.5 334v5M548.5 339v2M549.5 341v3M550.5 344v2M551.5 346v2M552.5 348v2M553.5 350v2M554.5 352v3M555.5 355v5M556.5 360v7M557.5 367v9M558.5 376v5M559.5 381v1M560.5 381v1M561.5 382v1M562.5 372v11M563.5 353v19M564.5 338v15M565.5 325v13M566.5 313v12M567.5 302v11M568.5 291v11M569.5 281v10M570.5 271v10M571.5 262v9M572.5 255v7M573.5 250v5M574.5 245v5M575.5 239v6M576.5 231v8M577.5 227v4M578.5 226v1M579.5 226v1M580.5 225v1M581.5 225v1M582.5 226v2M583.5 228v2M584.5 230v3M585.5 233v3M586.5 236v3M587.5 239v3M588.5 242v4M589.5 246v4M590.5 250v4M591.5 254v4M592.5 258v4M593.5 262v4M594.5 266v4M595.5 270v4M596.5 273v1M597.5 272v1M598.5 272v1M599.5 271v1M600.5 271v1M601.5 270v1M602.5 269v2M603.5 266v3M604.5 262v4M605.5 257v5M606.5 251v6M607.5 244v7M608.5 239v5M609.5 235v4M610.5 231v4M611.5 228v3M612.5 230v4M613.5 234v3M614.5 237v4M615.5 241v2M616.5 243v2M617.5 245v2M618.5 247v2M619.5 249v2M620.5 246v3M621.5 243v3M622.5 240v3M623.5 238v2M624.5 236v2M625.5 234v2M626.5 232v2M627.5 231v1M628.5 232v2M629.5 234v1M630.5 235v2M631.5 237v1M632.5 236v1M633.5 235v1M634.5 234v1M635.5 233v1M636.5 231v2M637.5 230v1M638.5 228v2M639.5 226v2M640.5 225v1M641.5 225v1M642.5 225v1M643.5 225v1M644.5 226v1M645.5 226v1M646.5 227v1M647.5 227v2M648.5 229v3M649.5 232v4M650.5 236v4M651.5 240v5M652.5 245v5M653.5 250v19M654.5 269v8M655.5 273v8M656.5 262v11M657.5 252v10M658.5 241v11M659.5 235v6M660.5 236v2M661.5 238v2M662.5 240v2M663.5 241v3M664.5 236v5M665.5 230v6M666.5 225v5M667.5 216v9M668.5 202v14M669.5 191v11M670.5 182v9M671.5 176v6M672.5 174v2M673.5 171v3M674.5 169v2M675.5 166v3M676.5 162v4M677.5 158v4M678.5 154v4M679.5 151v3M680.5 148v3M681.5 146v2M682.5 147v1M683.5 147v3M684.5 150v5M685.5 155v6M686.5 161v7M687.5 168v8M688.5 176v4M689.5 180v1M690.5 181v1M691.5 181v1M692.5 182v2M693.5 184v3M694.5 187v4M695.5 191v3M696.5 194v4M697.5 198v4M698.5 202v4M699.5 206v4M700.5 210v7M701.5 217v8M702.5 225v8M703.5 233v8M704.5 241v6M705.5 247v7M706.5 254v7M707.5 261v8M708.5 269v5M709.5 274v1M710.5 274v1M711.5 275v1M712.5 275v3M713.5 278v6M714.5 284v5M715.5 289v6M716.5 295v4" fill="none" stroke="#cc0000" stroke-width="1" shape-rendering="crispEdges"/>
<text x="37.5" y="477" fill="#000" stroke="#000" stroke-width="0.25" text-anchor="middle" font-size="9.6" font-weight="normal" textLength="30.6" lengthAdjust="spacingAndGlyphs">Montag</text>
<text x="37" y="492" fill="#000" stroke="#000" stroke-width="0.25" text-anchor="middle" font-size="9.6" font-weight="normal" textLength="35.6" lengthAdjust="spacingAndGlyphs">22.12.25</text>
<text x="134.5" y="477" fill="#000" stroke="#000" stroke-width="0.25" text-anchor="middle" font-size="9.6" font-weight="normal" textLength="34.7" lengthAdjust="spacingAndGlyphs">Dienstag</text>
<text x="134" y="492" fill="#000" stroke="#000" stroke-width="0.25" text-anchor="middle" font-size="9.6" font-weight="normal" textLength="35.6" lengthAdjust="spacingAndGlyphs">23.12.25</text>
<text x="232.25" y="477" fill="#000" stroke="#000" stroke-width="0.25" text-anchor="middle" font-size="9.6" font-weight="normal" textLength="38" lengthAdjust="spacingAndGlyphs">Mittwoch</text>
<text x="231" y="492" fill="#000" stroke="#000" stroke-width="0.25" text-anchor="middle" font-size="9.6" font-weight="normal" textLength="35.6" lengthAdjust="spacingAndGlyphs">24.12.25</text>
<text x="328.25" y="477" fill="#000" stroke="#000" stroke-width="0.25" text-anchor="middle" font-size="9.6" font-weight="normal" textLength="46" lengthAdjust="spacingAndGlyphs">Donnerstag</text>
<text x="328" y="492" fill="#000" stroke="#000" stroke-width="0.25" text-anchor="middle" font-size="9.6" font-weight="normal" textLength="35.6" lengthAdjust="spacingAndGlyphs">25.12.25</text>
<text x="427.9" y="477" fill="#000" stroke="#000" stroke-width="0.25" text-anchor="middle" font-size="9.6" font-weight="normal" textLength="28" lengthAdjust="spacingAndGlyphs">Freitag</text>
<text x="426" y="492" fill="#000" stroke="#000" stroke-width="0.25" text-anchor="middle" font-size="9.6" font-weight="normal" textLength="35.6" lengthAdjust="spacingAndGlyphs">26.12.25</text>
<text x="524.3" y="477" fill="#000" stroke="#000" stroke-width="0.25" text-anchor="middle" font-size="9.6" font-weight="normal" textLength="36" lengthAdjust="spacingAndGlyphs">Samstag</text>
<text x="523" y="492" fill="#000" stroke="#000" stroke-width="0.25" text-anchor="middle" font-size="9.6" font-weight="normal" textLength="35.6" lengthAdjust="spacingAndGlyphs">27.12.25</text>
<text x="620.5" y="477" fill="#000" stroke="#000" stroke-width="0.25" text-anchor="middle" font-size="9.6" font-weight="normal" textLength="33.5" lengthAdjust="spacingAndGlyphs">Sonntag</text>
<text x="620" y="492" fill="#000" stroke="#000" stroke-width="0.25" text-anchor="middle" font-size="9.6" font-weight="normal" textLength="35.6" lengthAdjust="spacingAndGlyphs">28.12.25</text>
<text x="37" y="47.6" fill="#cc0000" stroke="#cc0000" stroke-width="0.25" text-anchor="end" font-size="9.6" font-weight="normal" textLength="11" lengthAdjust="spacingAndGlyphs">°C</text>
<text x="37.2" y="456" fill="#cc0000" stroke="#cc0000" stroke-width="0.25" text-anchor="end" font-size="9.6" font-weight="normal" textLength="16.0" lengthAdjust="spacingAndGlyphs">-5,0</text>
<text x="37.2" y="423" fill="#cc0000" stroke="#cc0000" stroke-width="0.25" text-anchor="end" font-size="9.6" font-weight="normal" textLength="16.0" lengthAdjust="spacingAndGlyphs">-4,0</text>
<text x="37.2" y="390" fill="#cc0000" stroke="#cc0000" stroke-width="0.25" text-anchor="end" font-size="9.6" font-weight="normal" textLength="16.0" lengthAdjust="spacingAndGlyphs">-3,0</text>
<text x="37.2" y="357" fill="#cc0000" stroke="#cc0000" stroke-width="0.25" text-anchor="end" font-size="9.6" font-weight="normal" textLength="16.0" lengthAdjust="spacingAndGlyphs">-2,0</text>
<text x="37.2" y="325" fill="#cc0000" stroke="#cc0000" stroke-width="0.25" text-anchor="end" font-size="9.6" font-weight="normal" textLength="16.0" lengthAdjust="spacingAndGlyphs">-1,0</text>
<text x="37.2" y="292" fill="#cc0000" stroke="#cc0000" stroke-width="0.25" text-anchor="end" font-size="9.6" font-weight="normal" textLength="12.9" lengthAdjust="spacingAndGlyphs">0,0</text>
<text x="37.2" y="259" fill="#cc0000" stroke="#cc0000" stroke-width="0.25" text-anchor="end" font-size="9.6" font-weight="normal" textLength="12.9" lengthAdjust="spacingAndGlyphs">1,0</text>
<text x="37.2" y="226" fill="#cc0000" stroke="#cc0000" stroke-width="0.25" text-anchor="end" font-size="9.6" font-weight="normal" textLength="12.9" lengthAdjust="spacingAndGlyphs">2,0</text>
<text x="37.2" y="193" fill="#cc0000" stroke="#cc0000" stroke-width="0.25" text-anchor="end" font-size="9.6" font-weight="normal" textLength="12.9" lengthAdjust="spacingAndGlyphs">3,0</text>
<text x="37.2" y="160" fill="#cc0000" stroke="#cc0000" stroke-width="0.25" text-anchor="end" font-size="9.6" font-weight="normal" textLength="12.9" lengthAdjust="spacingAndGlyphs">4,0</text>
<text x="37.2" y="128" fill="#cc0000" stroke="#cc0000" stroke-width="0.25" text-anchor="end" font-size="9.6" font-weight="normal" textLength="12.9" lengthAdjust="spacingAndGlyphs">5,0</text>
<text x="37.2" y="95" fill="#cc0000" stroke="#cc0000" stroke-width="0.25" text-anchor="end" font-size="9.6" font-weight="normal" textLength="12.9" lengthAdjust="spacingAndGlyphs">6,0</text>
<text x="37.2" y="62" fill="#cc0000" stroke="#cc0000" stroke-width="0.25" text-anchor="end" font-size="9.6" font-weight="normal" textLength="12.9" lengthAdjust="spacingAndGlyphs">7,0</text>
<text x="725" y="47.6" fill="#008000" stroke="#008000" stroke-width="0.25" text-anchor="start" font-size="9.6" font-weight="normal" textLength="9.5" lengthAdjust="spacingAndGlyphs">%</text>
<text x="725" y="464.3" fill="#008000" stroke="#008000" stroke-width="0.25" text-anchor="start" font-size="9.6" font-weight="normal" textLength="4.4" lengthAdjust="spacingAndGlyphs">0</text>
<text x="725" y="443.3" fill="#008000" stroke="#008000" stroke-width="0.25" text-anchor="start" font-size="9.6" font-weight="normal" textLength="4.4" lengthAdjust="spacingAndGlyphs">5</text>
<text x="725" y="422.3" fill="#008000" stroke="#008000" stroke-width="0.25" text-anchor="start" font-size="9.6" font-weight="normal" textLength="9.3" lengthAdjust="spacingAndGlyphs">10</text>
<text x="725" y="401.3" fill="#008000" stroke="#008000" stroke-width="0.25" text-anchor="start" font-size="9.6" font-weight="normal" textLength="9.3" lengthAdjust="spacingAndGlyphs">15</text>
<text x="725" y="380.3" fill="#008000" stroke="#008000" stroke-width="0.25" text-anchor="start" font-size="9.6" font-weight="normal" textLength="9.3" lengthAdjust="spacingAndGlyphs">20</text>
<text x="725" y="359.3" fill="#008000" stroke="#008000" stroke-width="0.25" text-anchor="start" font-size="9.6" font-weight="normal" textLength="9.3" lengthAdjust="spacingAndGlyphs">25</text>
<text x="725" y="338.3" fill="#008000" stroke="#008000" stroke-width="0.25" text-anchor="start" font-size="9.6" font-weight="normal" textLength="9.3" lengthAdjust="spacingAndGlyphs">30</text>
<text x="725" y="317.3" fill="#008000" stroke="#008000" stroke-width="0.25" text-anchor="start" font-size="9.6" font-weight="normal" textLength="9.3" lengthAdjust="spacingAndGlyphs">35</text>
<text x="725" y="296.3" fill="#008000" stroke="#008000" stroke-width="0.25" text-anchor="start" font-size="9.6" font-weight="normal" textLength="9.3" lengthAdjust="spacingAndGlyphs">40</text>
<text x="725" y="275.3" fill="#008000" stroke="#008000" stroke-width="0.25" text-anchor="start" font-size="9.6" font-weight="normal" textLength="9.3" lengthAdjust="spacingAndGlyphs">45</text>
<text x="725" y="254.3" fill="#008000" stroke="#008000" stroke-width="0.25" text-anchor="start" font-size="9.6" font-weight="normal" textLength="9.3" lengthAdjust="spacingAndGlyphs">50</text>
<text x="725" y="233.3" fill="#008000" stroke="#008000" stroke-width="0.25" text-anchor="start" font-size="9.6" font-weight="normal" textLength="9.3" lengthAdjust="spacingAndGlyphs">55</text>
<text x="725" y="212.3" fill="#008000" stroke="#008000" stroke-width="0.25" text-anchor="start" font-size="9.6" font-weight="normal" textLength="9.3" lengthAdjust="spacingAndGlyphs">60</text>
<text x="725" y="191.3" fill="#008000" stroke="#008000" stroke-width="0.25" text-anchor="start" font-size="9.6" font-weight="normal" textLength="9.3" lengthAdjust="spacingAndGlyphs">65</text>
<text x="725" y="170.3" fill="#008000" stroke="#008000" stroke-width="0.25" text-anchor="start" font-size="9.6" font-weight="normal" textLength="9.3" lengthAdjust="spacingAndGlyphs">70</text>
<text x="725" y="149.3" fill="#008000" stroke="#008000" stroke-width="0.25" text-anchor="start" font-size="9.6" font-weight="normal" textLength="9.3" lengthAdjust="spacingAndGlyphs">75</text>
<text x="725" y="128.3" fill="#008000" stroke="#008000" stroke-width="0.25" text-anchor="start" font-size="9.6" font-weight="normal" textLength="9.3" lengthAdjust="spacingAndGlyphs">80</text>
<text x="725" y="107.3" fill="#008000" stroke="#008000" stroke-width="0.25" text-anchor="start" font-size="9.6" font-weight="normal" textLength="9.3" lengthAdjust="spacingAndGlyphs">85</text>
<text x="725" y="86.3" fill="#008000" stroke="#008000" stroke-width="0.25" text-anchor="start" font-size="9.6" font-weight="normal" textLength="9.3" lengthAdjust="spacingAndGlyphs">90</text>
<text x="725" y="65.3" fill="#008000" stroke="#008000" stroke-width="0.25" text-anchor="start" font-size="9.6" font-weight="normal" textLength="9.3" lengthAdjust="spacingAndGlyphs">95</text>
<text x="765.5" y="47.7" fill="#0000cc" stroke="#0000cc" stroke-width="0.25" text-anchor="start" font-size="9.6" font-weight="normal" textLength="15.5" lengthAdjust="spacingAndGlyphs">hPa</text>
<text x="765.6" y="450.1" fill="#0000cc" stroke="#0000cc" stroke-width="0.25" text-anchor="start" font-size="9.6" font-weight="normal" textLength="15.100000000000001" lengthAdjust="spacingAndGlyphs">994</text>
<text x="765.6" y="418.1" fill="#0000cc" stroke="#0000cc" stroke-width="0.25" text-anchor="start" font-size="9.6" font-weight="normal" textLength="15.100000000000001" lengthAdjust="spacingAndGlyphs">996</text>
<text x="765.6" y="387.1" fill="#0000cc" stroke="#0000cc" stroke-width="0.25" text-anchor="start" font-size="9.6" font-weight="normal" textLength="15.100000000000001" lengthAdjust="spacingAndGlyphs">998</text>
<text x="765.6" y="356.1" fill="#0000cc" stroke="#0000cc" stroke-width="0.25" text-anchor="start" font-size="9.6" font-weight="normal" textLength="22.5" lengthAdjust="spacingAndGlyphs">1.000</text>
<text x="765.6" y="324.1" fill="#0000cc" stroke="#0000cc" stroke-width="0.25" text-anchor="start" font-size="9.6" font-weight="normal" textLength="22.5" lengthAdjust="spacingAndGlyphs">1.002</text>
<text x="765.6" y="293.1" fill="#0000cc" stroke="#0000cc" stroke-width="0.25" text-anchor="start" font-size="9.6" font-weight="normal" textLength="22.5" lengthAdjust="spacingAndGlyphs">1.004</text>
<text x="765.6" y="262.1" fill="#0000cc" stroke="#0000cc" stroke-width="0.25" text-anchor="start" font-size="9.6" font-weight="normal" textLength="22.5" lengthAdjust="spacingAndGlyphs">1.006</text>
<text x="765.6" y="230.1" fill="#0000cc" stroke="#0000cc" stroke-width="0.25" text-anchor="start" font-size="9.6" font-weight="normal" textLength="22.5" lengthAdjust="spacingAndGlyphs">1.008</text>
<text x="765.6" y="199.1" fill="#0000cc" stroke="#0000cc" stroke-width="0.25" text-anchor="start" font-size="9.6" font-weight="normal" textLength="22.5" lengthAdjust="spacingAndGlyphs">1.010</text>
<text x="765.6" y="168.1" fill="#0000cc" stroke="#0000cc" stroke-width="0.25" text-anchor="start" font-size="9.6" font-weight="normal" textLength="22.5" lengthAdjust="spacingAndGlyphs">1.012</text>
<text x="765.6" y="136.1" fill="#0000cc" stroke="#0000cc" stroke-width="0.25" text-anchor="start" font-size="9.6" font-weight="normal" textLength="22.5" lengthAdjust="spacingAndGlyphs">1.014</text>
<text x="765.6" y="105.1" fill="#0000cc" stroke="#0000cc" stroke-width="0.25" text-anchor="start" font-size="9.6" font-weight="normal" textLength="22.5" lengthAdjust="spacingAndGlyphs">1.016</text>
<text x="765.6" y="73.1" fill="#0000cc" stroke="#0000cc" stroke-width="0.25" text-anchor="start" font-size="9.6" font-weight="normal" textLength="22.5" lengthAdjust="spacingAndGlyphs">1.018</text>
<text x="144.5" y="34" fill="#cc0000" stroke="#cc0000" stroke-width="0.25" text-anchor="middle" font-size="9.6" font-weight="normal" textLength="69" lengthAdjust="spacingAndGlyphs">Temperatur [°C]</text>
<text x="397" y="34" fill="#008000" stroke="#008000" stroke-width="0.25" text-anchor="middle" font-size="9.6" font-weight="normal" textLength="67" lengthAdjust="spacingAndGlyphs">rel. Feuchte [%]</text>
<text x="649.5" y="34" fill="#0000cc" stroke="#0000cc" stroke-width="0.25" text-anchor="middle" font-size="9.6" font-weight="normal" textLength="49" lengthAdjust="spacingAndGlyphs">Druck [hPa]</text>
<rect x="40" y="40" width="1" height="421" fill="#000"/><rect x="40" y="40" width="680" height="1" fill="#000"/><rect x="40" y="460" width="680" height="1" fill="#000"/><rect x="720" y="40" width="1" height="421" fill="#008000"/><rect x="760" y="40" width="1" height="420" fill="#0000cc"/><rect x="40" y="461" width="1" height="2" fill="#000"/><rect x="137" y="461" width="1" height="2" fill="#000"/><rect x="234" y="461" width="1" height="2" fill="#000"/><rect x="331" y="461" width="1" height="2" fill="#000"/><rect x="429" y="461" width="1" height="2" fill="#000"/><rect x="526" y="461" width="1" height="2" fill="#000"/><rect x="623" y="461" width="1" height="2" fill="#000"/><rect x="721" y="460" width="2" height="1" fill="#008000"/><rect x="721" y="439" width="2" height="1" fill="#008000"/><rect x="721" y="418" width="2" height="1" fill="#008000"/><rect x="721" y="397" width="2" height="1" fill="#008000"/><rect x="721" y="376" width="2" height="1" fill="#008000"/><rect x="721" y="355" width="2" height="1" fill="#008000"/><rect x="721" y="334" width="2" height="1" fill="#008000"/><rect x="721" y="313" width="2" height="1" fill="#008000"/><rect x="721" y="292" width="2" height="1" fill="#008000"/><rect x="721" y="271" width="2" height="1" fill="#008000"/><rect x="721" y="250" width="2" height="1" fill="#008000"/><rect x="721" y="229" width="2" height="1" fill="#008000"/><rect x="721" y="208" width="2" height="1" fill="#008000"/><rect x="721" y="187" width="2" height="1" fill="#008000"/><rect x="721" y="166" width="2" height="1" fill="#008000"/><rect x="721" y="145" width="2" height="1" fill="#008000"/><rect x="721" y="124" width="2" height="1" fill="#008000"/><rect x="721" y="103" width="2" height="1" fill="#008000"/><rect x="721" y="82" width="2" height="1" fill="#008000"/><rect x="721" y="61" width="2" height="1" fill="#008000"/><rect x="761" y="446" width="2" height="1" fill="#0000cc"/><rect x="761" y="414" width="2" height="1" fill="#0000cc"/><rect x="761" y="383" width="2" height="1" fill="#0000cc"/><rect x="761" y="352" width="2" height="1" fill="#0000cc"/><rect x="761" y="320" width="2" height="1" fill="#0000cc"/><rect x="761" y="289" width="2" height="1" fill="#0000cc"/><rect x="761" y="258" width="2" height="1" fill="#0000cc"/><rect x="761" y="226" width="2" height="1" fill="#0000cc"/><rect x="761" y="195" width="2" height="1" fill="#0000cc"/><rect x="761" y="164" width="2" height="1" fill="#0000cc"/><rect x="761" y="132" width="2" height="1" fill="#0000cc"/><rect x="761" y="101" width="2" height="1" fill="#0000cc"/><rect x="761" y="69" width="2" height="1" fill="#0000cc"/>
</svg>
</body></html>
